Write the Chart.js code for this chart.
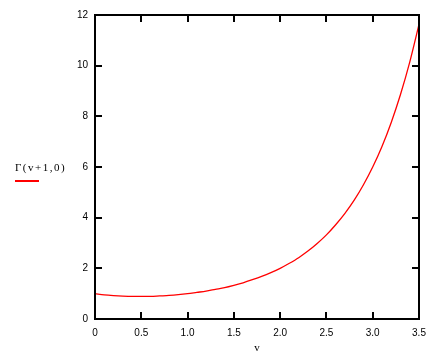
<!DOCTYPE html>
<html>
<head>
<meta charset="utf-8">
<script src="https://cdn.jsdelivr.net/npm/chart.js@4"></script>
<style>
  html, body { margin: 0; padding: 0; background: #fff; }
  #wrap { position: relative; width: 442px; height: 356px; }
  #ylab { position: absolute; left: 15px; top: 161px; font: 11px "Liberation Serif", serif; letter-spacing: 1.5px; color: #000; white-space: nowrap; }
  #ykey { position: absolute; left: 15px; top: 180px; width: 24px; height: 2px; background: #ff0000; }
</style>
</head>
<body>
<div id="wrap">
  <canvas id="c" width="442" height="356"></canvas>
  <div id="ylab"></div>
  <div id="ykey"></div>
</div>
<script>
const yTitle = "Γ(v+1,0)";
const xTitle = "v";
const vValues = [0.0,0.1,0.2,0.3,0.4,0.5,0.6,0.7,0.8,0.9,1.0,1.1,1.2,1.3,1.4,1.5,1.6,1.7,1.8,1.9,2.0,2.1,2.2,2.3,2.4,2.5,2.6,2.7,2.8,2.9,3.0,3.1,3.2,3.3,3.4,3.5];
const gammaValues = [1.00,0.95,0.92,0.90,0.89,0.89,0.89,0.91,0.93,0.96,1.00,1.05,1.10,1.17,1.24,1.33,1.43,1.55,1.68,1.83,2.00,2.20,2.42,2.68,2.98,3.32,3.72,4.17,4.69,5.30,6.00,6.81,7.76,8.86,10.14,11.63];
const xTicks = [0,0.5,1,1.5,2,2.5,3,3.5];
const yTicks = [0,2,4,6,8,10,12];

document.getElementById('ylab').textContent = yTitle;

const points = vValues.map((v, i) => ({ x: v, y: gammaValues[i] }));

const framePlugin = {
  id: 'frame',
  afterDraw(chart) {
    const { ctx, chartArea: a, scales } = chart;
    ctx.save();
    ctx.strokeStyle = '#000';
    ctx.lineWidth = 2;
    ctx.strokeRect(a.left, a.top, a.right - a.left, a.bottom - a.top);
    const L = 7;
    ctx.beginPath();
    xTicks.forEach(t => {
      const px = Math.round(scales.x.getPixelForValue(t));
      ctx.moveTo(px, a.bottom); ctx.lineTo(px, a.bottom - L);
      ctx.moveTo(px, a.top); ctx.lineTo(px, a.top + L);
    });
    yTicks.forEach(t => {
      const py = Math.round(scales.y.getPixelForValue(t));
      ctx.moveTo(a.left, py); ctx.lineTo(a.left + L, py);
      ctx.moveTo(a.right, py); ctx.lineTo(a.right - L, py);
    });
    ctx.stroke();
    ctx.restore();
  }
};

new Chart(document.getElementById('c'), {
  type: 'scatter',
  data: {
    datasets: [{
      data: points,
      showLine: true,
      borderColor: '#ff0000',
      borderWidth: 1.3,
      pointRadius: 0,
      cubicInterpolationMode: 'monotone',
      fill: false
    }]
  },
  options: {
    responsive: false,
    animation: false,
    events: [],
    layout: { padding: { left: 0, top: 15, right: 23, bottom: 0 } },
    plugins: { legend: { display: false }, tooltip: { enabled: false } },
    scales: {
      x: {
        type: 'linear', min: 0, max: 3.5,
        afterBuildTicks(s) { s.ticks = xTicks.map(v => ({ value: v })); },
        afterFit(s) { s.height = 37; },
        grid: { display: false, drawTicks: false },
        border: { display: false },
        ticks: { color: '#000', font: { family: 'Liberation Sans', size: 10 }, padding: 8, maxRotation: 0, autoSkip: false },
        title: { display: true, text: xTitle, color: '#000', font: { family: 'Liberation Serif', size: 11 }, padding: { top: 0, bottom: 1 } }
      },
      y: {
        type: 'linear', min: 0, max: 12,
        afterBuildTicks(s) { s.ticks = yTicks.map(v => ({ value: v })); },
        afterFit(s) { s.width = 95; },
        grid: { display: false, drawTicks: false },
        border: { display: false },
        ticks: { color: '#000', font: { family: 'Liberation Sans', size: 10 }, padding: 7, autoSkip: false }
      }
    }
  },
  plugins: [framePlugin]
});
</script>
</body>
</html>
